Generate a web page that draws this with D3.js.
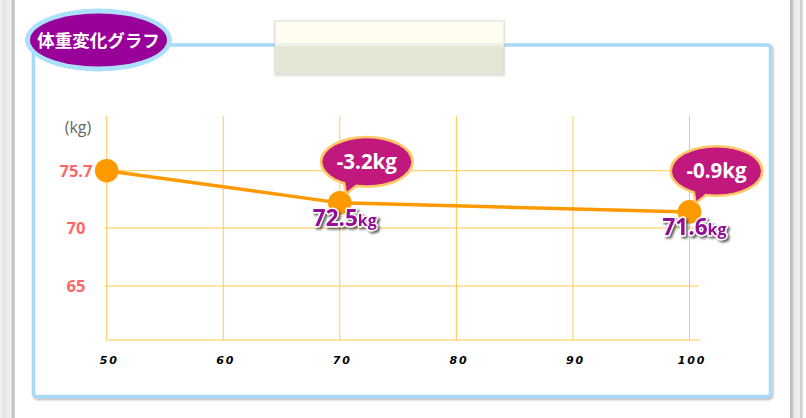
<!DOCTYPE html>
<html>
<head>
<meta charset="utf-8">
<script src="https://cdn.jsdelivr.net/npm/d3@7/dist/d3.min.js"></script>
<style>
html,body{margin:0;padding:0;background:#fff;overflow:hidden;}
svg{display:block;}
</style>
</head>
<body>
<svg id="c" width="806" height="418"></svg>
<script>
// ---- data ----
const title = "体重変化グラフ";
const unitLabel = "(kg)";
const xTickValues = [50, 60, 70, 80, 90, 100];
const yTickValues = [65, 70, 75.7];
const pointX = [50, 70, 100];
const pointWeight = [75.7, 72.5, 71.6];

// ---- layout ----
const W = 806, H = 418;
const plotLeft = 106.7, plotRight = 689.5, plotTop = 116, plotBottom = 340, gridRight = 699;

const svg = d3.select("#c");
const defs = svg.append("defs");

const sh = defs.append("filter").attr("id","boxShadow").attr("x","-5%").attr("y","-5%").attr("width","110%").attr("height","110%");
sh.append("feDropShadow").attr("dx",1).attr("dy",1.5).attr("stdDeviation",1.2).attr("flood-color","#000").attr("flood-opacity",0.35);

const ts = defs.append("filter").attr("id","textShadow").attr("x","-20%").attr("y","-30%").attr("width","150%").attr("height","170%");
ts.append("feDropShadow").attr("dx",2).attr("dy",2).attr("stdDeviation",1.2).attr("flood-color","#333").attr("flood-opacity",0.75);

const tapeSh = defs.append("filter").attr("id","tapeShadow").attr("x","-5%").attr("y","-10%").attr("width","110%").attr("height","130%");
tapeSh.append("feDropShadow").attr("dx",0).attr("dy",1).attr("stdDeviation",1).attr("flood-color","#000").attr("flood-opacity",0.2);

// side strips
const lg = defs.append("linearGradient").attr("id","leftStrip").attr("x1",0).attr("x2",1).attr("y1",0).attr("y2",0);
[[0,"#f4f4f4"],[0.25,"#e2e2e2"],[0.4,"#ebebeb"],[0.75,"#efefef"],[0.8,"#c2c2c2"],[1,"#cccccc"]].forEach(s=>lg.append("stop").attr("offset",s[0]).attr("stop-color",s[1]));
svg.append("rect").attr("x",0).attr("y",0).attr("width",15).attr("height",H).attr("fill","url(#leftStrip)");
const rg = defs.append("linearGradient").attr("id","rightStrip").attr("x1",0).attr("x2",1).attr("y1",0).attr("y2",0);
[[0,"#b5b5b5"],[0.25,"#d0d0d0"],[0.35,"#ececec"],[0.75,"#eeeeee"],[0.82,"#c9c9c9"],[1,"#e2e2e2"]].forEach(s=>rg.append("stop").attr("offset",s[0]).attr("stop-color",s[1]));
svg.append("rect").attr("x",790).attr("y",0).attr("width",13).attr("height",H).attr("fill","url(#rightStrip)");

// main box
svg.append("rect").attr("x",33.5).attr("y",45).attr("width",737).attr("height",351.5).attr("rx",3)
  .attr("fill","#fff").attr("stroke","#a9d9f7").attr("stroke-width",3.5).attr("filter","url(#boxShadow)");

// tape
const tape = svg.append("g").attr("filter","url(#tapeShadow)");
tape.append("rect").attr("x",275).attr("y",21).attr("width",229).attr("height",53).attr("fill","#e6e6d7").attr("stroke","#d9d9d9").attr("stroke-width",1);
tape.append("rect").attr("x",275.5).attr("y",21.5).attr("width",228).attr("height",21.5).attr("fill","#fffdef");
tape.append("rect").attr("x",275.5).attr("y",43).attr("width",228).attr("height",3).attr("fill","#eef3e8");

// title ellipse
svg.append("ellipse").attr("cx",98.5).attr("cy",40).attr("rx",73.5).attr("ry",31.5).attr("fill","#ade0fb");
svg.append("ellipse").attr("cx",98.5).attr("cy",40).attr("rx",68.5).attr("ry",26.5).attr("fill","#990099");
svg.append("text").attr("x",98.5).attr("y",46.5).attr("text-anchor","middle")
  .attr("font-family","'Noto Sans CJK JP', sans-serif").attr("font-weight","bold").attr("font-size",17.5)
  .attr("fill","#fff").text(title);

// scales
const x = d3.scaleLinear().domain([xTickValues[0], xTickValues[xTickValues.length-1]]).range([plotLeft, plotRight]);
const y = d3.scaleLinear().domain(yTickValues).range([286, 228, 170.7]);

const fmt1 = v => d3.format(".1f")(v).replace("\u2212","-");

const gridColor = "#ffc94d";
const grid = svg.append("g");
grid.selectAll("line.v").data(xTickValues).join("line")
  .attr("x1",d=>x(d)).attr("x2",d=>x(d)).attr("y1",plotTop).attr("y2",plotBottom)
  .attr("stroke",gridColor).attr("stroke-width",1);
grid.selectAll("line.h").data(yTickValues).join("line")
  .attr("x1",plotLeft-2).attr("x2",gridRight).attr("y1",d=>y(d)).attr("y2",d=>y(d))
  .attr("stroke",gridColor).attr("stroke-width",1);
grid.append("line").attr("x1",plotLeft).attr("x2",gridRight+1).attr("y1",plotBottom).attr("y2",plotBottom)
  .attr("stroke",gridColor).attr("stroke-width",1.2);

// x axis labels
const xAxis = d3.axisBottom(x).tickValues(xTickValues).tickSize(0).tickPadding(0).tickFormat(d3.format("d"));
const xg = svg.append("g").attr("transform",`translate(2,${plotBottom+16})`).call(xAxis);
xg.select(".domain").remove();
xg.selectAll("text").attr("font-family","'DejaVu Sans', Arial, sans-serif").attr("font-weight","bold")
  .attr("font-style","italic").attr("font-size",11).attr("letter-spacing","1.8px").attr("fill","#000");

// y axis labels
const yAxis = d3.axisLeft(y).tickValues(yTickValues).tickSize(0).tickPadding(0).tickFormat(d=>String(d));
const yg = svg.append("g").attr("transform","translate(95,0)").call(yAxis);
yg.select(".domain").remove();
yg.selectAll("text").attr("text-anchor","middle").attr("x",-19).attr("dy","0.36em")
  .attr("font-family","'Open Sans', sans-serif").attr("font-weight","bold").attr("font-size",16.5).attr("fill","#ff6666");

svg.append("text").attr("x",78).attr("y",133).attr("text-anchor","middle")
  .attr("font-family","'Open Sans', sans-serif").attr("font-size",16).attr("fill","#666").text(unitLabel);

// data line
const pts = pointX.map((d,i)=>({x:d, w:pointWeight[i], i}));
svg.append("path").datum(pts)
  .attr("d", d3.line().x(d=>x(d.x)).y(d=>y(d.w)))
  .attr("fill","none").attr("stroke","#ff9900").attr("stroke-width",3.5);
svg.selectAll("circle.pt").data(pts).join("circle")
  .attr("cx",d=>x(d.x)).attr("cy",d=>y(d.w)).attr("r",11.8).attr("fill","#ff9900");

// bubbles for differences
const later = pts.slice(1);
const bub = svg.selectAll("g.bub").data(later).join("g")
  .attr("transform",d=>`translate(${x(d.x)},${y(d.w)})`);
const tailPath = "M4,-30 L7,-11 L22,-23 Z";
bub.append("ellipse").attr("cx",27).attr("cy",-41).attr("rx",44.5).attr("ry",23.5)
  .attr("fill","none").attr("stroke","#ffc766").attr("stroke-width",5);
bub.append("path").attr("d",tailPath).attr("fill","none").attr("stroke","#ffc766").attr("stroke-width",5).attr("stroke-linejoin","round");
bub.append("ellipse").attr("cx",27).attr("cy",-41).attr("rx",44.5).attr("ry",23.5).attr("fill","#c0187c");
bub.append("path").attr("d",tailPath).attr("fill","#c0187c");
bub.append("text").attr("x",27).attr("y",-34).attr("text-anchor","middle")
  .attr("font-family","'Open Sans', sans-serif").attr("font-weight","bold").attr("font-size",20.5)
  .attr("fill","#fff")
  .text(d=>fmt1(d.w - pts[d.i-1].w) + "kg");

// value labels
const vl = svg.selectAll("text.val").data(later).join("text")
  .attr("x",d=>x(d.x)+5).attr("y",d=>y(d.w)+23).attr("text-anchor","middle")
  .attr("font-family","'Open Sans', sans-serif").attr("font-weight","bold")
  .attr("fill","#960896").attr("stroke","#fff").attr("stroke-width",3).attr("paint-order","stroke")
  .attr("stroke-linejoin","round").attr("filter","url(#textShadow)");
vl.append("tspan").attr("font-size",22.5).text(d=>fmt1(d.w));
vl.append("tspan").attr("font-size",16).text("kg");
</script>
</body>
</html>
